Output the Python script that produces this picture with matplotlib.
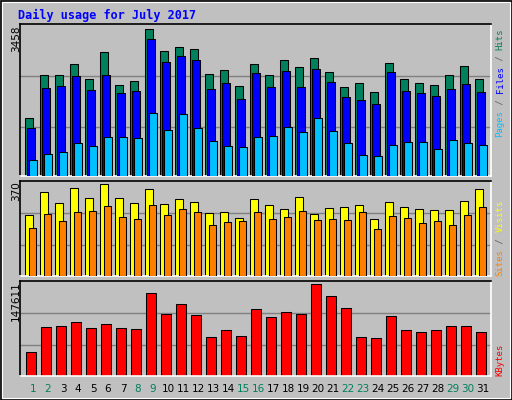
import matplotlib
matplotlib.use("Agg")
import matplotlib.pyplot as plt
from matplotlib.patches import Rectangle
import numpy as np

days = list(range(1, 32))
weekend_days = [1, 2, 8, 9, 15, 16, 22, 23, 29, 30]
hits = [1360, 2373, 2373, 2633, 2279, 2916, 2138, 2232, 3458, 2939, 3034, 2986, 2397, 2491, 2114, 2633,
        2373, 2727, 2562, 2774, 2444, 2090, 2185, 1973, 2656, 2279, 2185, 2138, 2373, 2586, 2279]
files = [1124, 2067, 2114, 2350, 2020, 2373, 1949, 1996, 3222, 2680, 2821, 2727, 2043, 2185, 1808, 2421,
         2090, 2468, 2090, 2515, 2208, 1855, 1784, 1690, 2444, 1996, 1949, 1878, 2043, 2161, 1973]
pages = [369, 511, 558, 770, 699, 912, 912, 888, 1477, 1077, 1454, 1124, 817, 699, 676, 912,
         935, 1147, 1030, 1360, 1053, 770, 487, 464, 723, 794, 794, 629, 841, 770, 723]
visits = [244, 336, 292, 353, 312, 369, 312, 292, 349, 288, 308, 296, 252, 256, 232, 308,
          284, 268, 316, 248, 272, 276, 284, 228, 296, 276, 268, 264, 264, 300, 349]
sites = [192, 248, 220, 256, 260, 280, 236, 228, 284, 244, 268, 256, 204, 216, 220, 256,
         228, 236, 260, 224, 228, 224, 256, 188, 240, 232, 212, 220, 204, 244, 276]
kbytes = [37574, 77831, 79441, 85882, 76221, 82662, 76221, 74611, 132583, 98766, 114869, 97155, 61728,
          73000, 63339, 106817, 93934, 101986, 98766, 147611, 127751, 108427, 61728, 60118, 95545,
          73000, 69780, 73000, 79441, 79441, 69780]
max_labels = ["3458", "370", "147611"]
title = "Daily usage for July 2017"

GREY = "#C0C0C0"
GREEN = "#00805C"
mono = "DejaVu Sans Mono"
W, H = 512, 400

fig = plt.figure(figsize=(5.12, 4.0), dpi=100, facecolor=GREY)
# outer frame
fig.patches.append(Rectangle((0.5/W, 0.5/H), 1-1/W, 1-1/H, transform=fig.transFigure,
                             fill=False, edgecolor="black", lw=1.2))
fig.patches.append(Rectangle((2/W, 2/H), 1-4/W, 1-4/H, transform=fig.transFigure,
                             fill=False, edgecolor="white", lw=0.8))

fig.text(18/W, 1-15/H, title, color="#0000FF", fontsize=8.5, fontweight="bold",
         family=mono, va="center", ha="left")

x = np.arange(len(days))
lw = 0.75

def make_ax(top, bottom):
    ax = fig.add_axes([20/W, 1-bottom/H, 471/W, (bottom-top)/H])
    ax.set_facecolor(GREY)
    ax.set_xlim(-0.4, 31.0)
    ax.set_xticks([]); ax.set_yticks([])
    for s in ["left", "top"]:
        ax.spines[s].set_color("black"); ax.spines[s].set_linewidth(1.2)
    for s in ["right", "bottom"]:
        ax.spines[s].set_color("white"); ax.spines[s].set_linewidth(1.2)
    return ax

def grid(ax, ymax):
    for f in (0.322, 0.658):
        ax.axhline(ymax*f, color="#808080", lw=1, zorder=0)

# top panel
ax1 = make_ax(24, 176)
ym1 = hits[8] * 152/146.7
ax1.set_ylim(0, ym1); grid(ax1, ym1)
ax1.bar(x-0.047, hits, 0.49, align="edge", color=GREEN, edgecolor="black", lw=lw, zorder=2)
ax1.bar(x+0.087, files, 0.49, align="edge", color="#0000FF", edgecolor="black", lw=lw, zorder=3)
ax1.bar(x+0.22, pages, 0.49, align="edge", color="#00C0FF", edgecolor="black", lw=lw, zorder=4)

# middle panel
ax2 = make_ax(180.7, 276)
ym2 = max(visits) * 95.3/92
ax2.set_ylim(0, ym2); grid(ax2, ym2)
ax2.bar(x-0.047, visits, 0.53, align="edge", color="#FFFF00", edgecolor="black", lw=lw, zorder=2)
ax2.bar(x+0.22, sites, 0.47, align="edge", color="#FF8000", edgecolor="black", lw=lw, zorder=3)

# bottom panel
ax3 = make_ax(280.7, 375.7)
ym3 = max(kbytes) * 95/91.7
ax3.set_ylim(0, ym3); grid(ax3, ym3)
ax3.bar(x+0.02, kbytes, 0.667, align="edge", color="#FF0000", edgecolor="black", lw=lw, zorder=2)

# day labels
for i, d in enumerate(days):
    ax3.text(i+0.467, -0.14, str(d), transform=ax3.get_xaxis_transform(), ha="center", va="center",
             fontsize=7.5, family="DejaVu Sans", color=GREEN if d in weekend_days else "black")

# max labels
for lab, top in zip(max_labels, [24, 180.7, 280.7]):
    fig.text(16/W, 1-(top+1)/H, lab, rotation=90, ha="center", va="top", fontsize=7.5,
             family="DejaVu Sans", color="black")

# right legends
def vlegend(pieces, ybottom_px):
    step = 5.45
    y = ybottom_px
    for txt, col in pieces:
        fig.text(500/W, 1-y/H, txt, rotation=90, ha="center", va="bottom", fontsize=6.5,
                 family=mono, color=col)
        y -= step*len(txt)

vlegend([("Pages", "#00C0FF"), (" / ", "#606060"), ("Files", "#0000FF"), (" / ", "#606060"),
         ("Hits", GREEN)], 137)
vlegend([("Sites", "#FF8000"), (" / ", "#606060"), ("Visits", "#FFFF00")], 276)
vlegend([("KBytes", "#FF0000")], 376)

fig.savefig("out.png", dpi=100, facecolor=GREY)
